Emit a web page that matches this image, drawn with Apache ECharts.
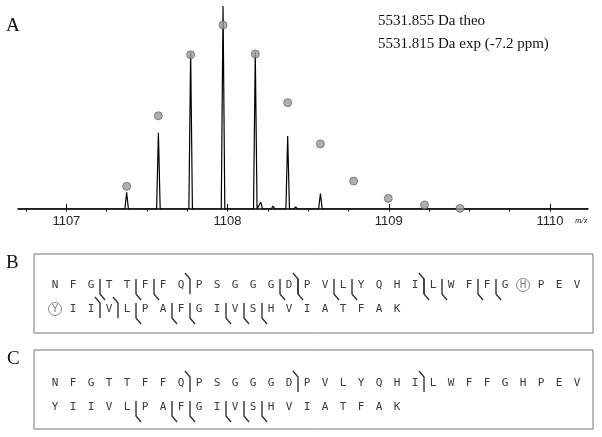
<!DOCTYPE html>
<html><head><meta charset="utf-8">
<script src="https://cdn.jsdelivr.net/npm/echarts@6/dist/echarts.min.js"></script>
<style>html,body{margin:0;padding:0;background:#fff}#c{width:602px;height:437px}</style>
</head><body><div id="c"></div>
<script>
// ---------- Panel A: isotopic distribution ----------
const peakMz  = [1107.374, 1107.571, 1107.771, 1107.972, 1108.074, 1108.172, 1108.206, 1108.282, 1108.373, 1108.423, 1108.576, 1108.779];
const peakInt = [8.2, 37.4, 77.0, 99.5, 0.6, 77.0, 3.4, 1.5, 35.8, 1.0, 7.6, 0.6];
const theoMz  = [1107.374, 1107.571, 1107.771, 1107.972, 1108.172, 1108.373, 1108.576, 1108.782, 1108.997, 1109.222, 1109.442];
const theoInt = [11.1, 45.7, 75.6, 90.2, 76.0, 52.1, 31.9, 13.7, 5.2, 2.0, 0.3];
const majorTicks = [1107, 1108, 1109, 1110];
const minorTicks = [1106.75, 1107, 1107.25, 1107.5, 1107.75, 1108, 1108.25, 1108.5, 1108.75, 1109, 1109.25, 1109.5, 1109.75, 1110];
const massTexts = ['5531.855 Da theo', '5531.815 Da exp (-7.2 ppm)'];

// ---------- Panels B and C: fragment maps ----------
const sequence = 'NFGTTFFQPSGGGDPVLYQHILWFFGHPEVYIIVLPAFGIVSHVIATFAK';
const rowLength = 30;
const nTermB = [7, 13, 20, 32, 33];                 // cleavage after residue index, N-terminal fragment
const cTermB = [2, 4, 5, 12, 13, 15, 16, 20, 21, 23, 24, 34, 36, 37, 39, 40, 41];
const circledB = [26, 30];
const nTermC = [7, 13, 20];
const cTermC = [34, 36, 37, 39, 40, 41];
const circledC = [];
const panelLabels = ['A', 'B', 'C'];

const chart = echarts.init(document.getElementById('c'), null, {renderer: 'canvas'});

// spectrum profile: narrow peaks built from centroid list
const PW = 0.011;
const order = peakMz.map((m, i) => i).sort((a, b) => peakMz[a] - peakMz[b]);
const profile = [[1106.70, 0]];
order.forEach(i => { profile.push([peakMz[i] - PW, 0], [peakMz[i], peakInt[i]], [peakMz[i] + PW, 0]); });
profile.push([1110.236, 0]);

function seqData(circled) {
  return sequence.split('').map((ch, i) => [i % rowLength, Math.floor(i / rowLength), ch, circled.indexOf(i) >= 0 ? 1 : 0]);
}
function markData(nt, ct) {
  const d = [];
  nt.forEach(i => d.push([i % rowLength + 0.5, Math.floor(i / rowLength), 0]));
  ct.forEach(i => d.push([i % rowLength + 0.5, Math.floor(i / rowLength), 1]));
  return d;
}
const SEQ_COLOR = '#3a3a3a';
function renderLetter(params, api) {
  const p = api.coord([api.value(0), api.value(1)]);
  const ch = sequence[params.dataIndex];
  const circ = api.value(3) === 1;
  const children = [{
    type: 'text', x: p[0], y: p[1],
    style: {text: ch, x: 0, y: 0, align: 'center', verticalAlign: 'middle',
      font: '11px "DejaVu Sans Mono"', fill: circ ? '#888' : SEQ_COLOR}
  }];
  if (circ) children.push({type: 'circle', shape: {cx: p[0], cy: p[1], r: 6.5},
    style: {fill: 'none', stroke: '#888', lineWidth: 1}});
  return {type: 'group', children};
}
function renderMark(params, api) {
  const p = api.coord([api.value(0), api.value(1)]);
  const x = p[0], y = p[1];
  const pts = api.value(2) === 0
    ? [[x - 5, y - 12], [x, y - 6], [x, y + 9]]
    : [[x, y - 6], [x, y + 9], [x + 5, y + 15]];
  return {type: 'polyline', shape: {points: pts}, style: {stroke: '#333', lineWidth: 1.4, fill: 'none'}};
}

const option = {
  animation: false,
  backgroundColor: '#fff',
  grid: [
    {left: 18, top: 5, width: 570, height: 204},
    {left: 34, top: 254, width: 559, height: 79, show: true, borderColor: '#777', borderWidth: 1, backgroundColor: 'transparent'},
    {left: 34, top: 350, width: 559, height: 79, show: true, borderColor: '#777', borderWidth: 1, backgroundColor: 'transparent'}
  ],
  xAxis: [
    {gridIndex: 0, type: 'value', min: 1106.70, max: 1110.236,
      axisLine: {onZero: false, lineStyle: {color: '#000', width: 1.5}},
      axisTick: {customValues: minorTicks, length: 2.5, lineStyle: {color: '#000', width: 1}},
      axisLabel: {customValues: majorTicks, margin: 6, fontSize: 13, color: '#222', fontFamily: 'Liberation Sans',
        formatter: v => String(Math.round(v))},
      splitLine: {show: false}},
    {gridIndex: 0, type: 'value', min: 1106.70, max: 1110.236,
      axisLine: {show: false},
      axisTick: {customValues: majorTicks, length: 5, lineStyle: {color: '#000', width: 1}},
      axisLabel: {show: false}, splitLine: {show: false}},
    {gridIndex: 1, type: 'value', min: -21 / 18, max: -21 / 18 + 559 / 18, show: false},
    {gridIndex: 2, type: 'value', min: -21 / 18, max: -21 / 18 + 559 / 18, show: false}
  ],
  yAxis: [
    {gridIndex: 0, type: 'value', min: 0, max: 100, show: false},
    {gridIndex: 1, type: 'value', inverse: true, min: -31 / 24, max: -31 / 24 + 79 / 24, show: false},
    {gridIndex: 2, type: 'value', inverse: true, min: -33 / 24, max: -33 / 24 + 79 / 24, show: false}
  ],
  graphic: [
    {type: 'text', left: 6, top: 17, style: {text: panelLabels[0], font: '19px "Liberation Serif"', fill: '#111'}},
    {type: 'text', left: 6, top: 254, style: {text: panelLabels[1], font: '19px "Liberation Serif"', fill: '#111'}},
    {type: 'text', left: 7, top: 350, style: {text: panelLabels[2], font: '19px "Liberation Serif"', fill: '#111'}},
    {type: 'text', left: 378, top: 14, style: {text: massTexts[0], font: '15px "Liberation Serif"', fill: '#111'}},
    {type: 'text', left: 378, top: 37, style: {text: massTexts[1], font: '15px "Liberation Serif"', fill: '#111'}},
    {type: 'text', left: 575, top: 216, style: {text: 'm/z', font: 'italic 9px "Liberation Serif"', fill: '#222'}}
  ],
  series: [
    {type: 'line', xAxisIndex: 0, yAxisIndex: 0, data: profile, symbol: 'none',
      lineStyle: {color: '#000', width: 1.2}, z: 2},
    {type: 'scatter', xAxisIndex: 0, yAxisIndex: 0, data: theoMz.map((m, i) => [m, theoInt[i]]),
      symbolSize: 8, itemStyle: {color: '#9b9b9b', borderColor: '#555', borderWidth: 0.8}, z: 3},
    {type: 'custom', xAxisIndex: 2, yAxisIndex: 1, data: seqData(circledB), renderItem: renderLetter},
    {type: 'custom', xAxisIndex: 2, yAxisIndex: 1, data: markData(nTermB, cTermB), renderItem: renderMark},
    {type: 'custom', xAxisIndex: 3, yAxisIndex: 2, data: seqData(circledC), renderItem: renderLetter},
    {type: 'custom', xAxisIndex: 3, yAxisIndex: 2, data: markData(nTermC, cTermC), renderItem: renderMark}
  ]
};
chart.setOption(option);
</script></body></html>
